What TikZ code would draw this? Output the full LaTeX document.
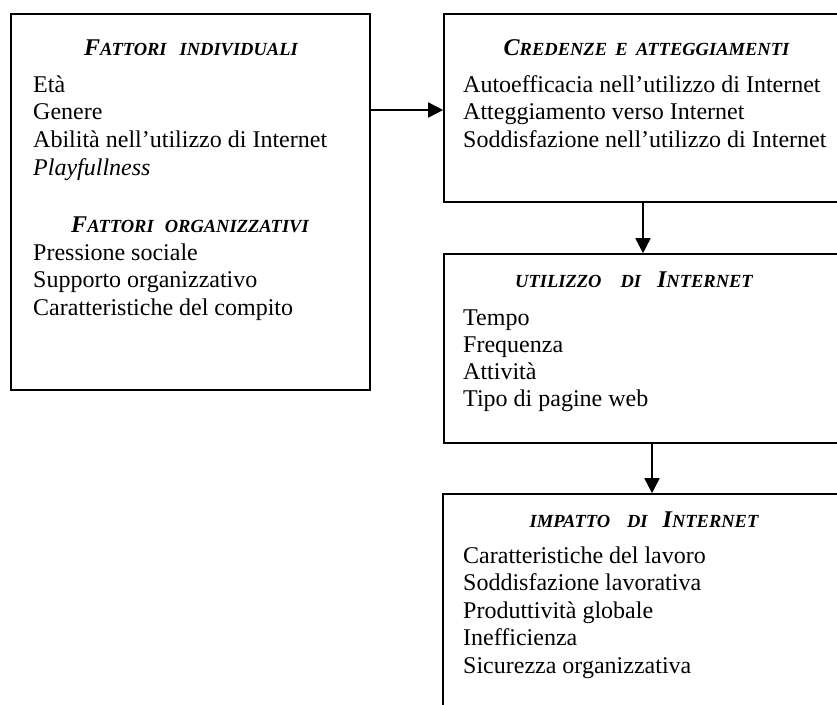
\documentclass[tikz,border=0pt]{standalone}
\usepackage{fontspec}
\setmainfont{Liberation Serif}
\usetikzlibrary{arrows.meta}
\newcommand{\capL}[1]{{\fontsize{24}{24}\selectfont #1}}
\newcommand{\capS}[1]{{\fontsize{18.5}{18.5}\selectfont #1}}
\newcommand{\wsp}{\hspace{0.45em}}
\begin{document}
\begin{tikzpicture}[x=1pt,y=-1pt,
  box/.style={draw=black, line width=1.6pt, rectangle, inner sep=0pt, fill=none},
  item/.style={anchor=base west, inner sep=0pt, font=\fontsize{24}{27.5}\selectfont},
  head/.style={anchor=base, inner sep=0pt, font=\bfseries\itshape},
  arr/.style={line width=1.6pt, -{Triangle[length=15pt,width=15pt]}}]
\useasboundingbox (0,0) rectangle (837,704);
\clip (0,0) rectangle (837,704);
\fill[white] (0,0) rectangle (837,704);
% boxes
\node[box, minimum width=359pt, minimum height=376pt] (L) at (190.5,202) {};
\node[box, minimum width=404pt, minimum height=188pt] (B1) at (646,108) {};
\node[box, minimum width=404pt, minimum height=189pt] (B2) at (646,348.5) {};
\node[box, minimum width=405pt, minimum height=250pt] (B3) at (645.5,619) {};
% left box
\node[head] (hL1) at (191,55) {\capL{F}\capS{ATTORI\hspace{0.7em}INDIVIDUALI}};
\foreach \t [count=\i] in {Età, Genere, Abilità nell’utilizzo di Internet, {\itshape Playfullness}}
  \node[item] (L\i) at (33,{92+27.7*(\i-1)}) {\t};
\node[head] (hL2) at (190,232) {\capL{F}\capS{ATTORI\hspace{0.6em}ORGANIZZATIVI}};
\foreach \t [count=\i] in {Pressione sociale, Supporto organizzativo, Caratteristiche del compito}
  \node[item] (O\i) at (33,{260+27.5*(\i-1)}) {\t};
% box 1
\node[head] (hB1) at (646.5,55) {\capL{C}\capS{REDENZE\wsp E\wsp ATTEGGIAMENTI}};
\foreach \t [count=\i] in {Autoefficacia nell’utilizzo di Internet, Atteggiamento verso Internet, Soddisfazione nell’utilizzo di Internet}
  \node[item] (C\i) at (463,{92+27.5*(\i-1)}) {\t};
% box 2
\node[head] (hB2) at (634,287) {\capS{UTILIZZO\hspace{19pt}DI\hspace{16pt}}\capL{I}\capS{NTERNET}};
\foreach \t [count=\i] in {Tempo, Frequenza, Attività, Tipo di pagine web}
  \node[item] (U\i) at (463,{325+27.3*(\i-1)}) {\t};
% box 3
\node[head] (hB3) at (644,527) {\capS{IMPATTO\hspace{17pt}DI\hspace{15pt}}\capL{I}\capS{NTERNET}};
\foreach \t [count=\i] in {Caratteristiche del lavoro, Soddisfazione lavorativa, Produttività globale, Inefficienza, Sicurezza organizzativa}
  \node[item] (I\i) at (463,{563+27.5*(\i-1)}) {\t};
% arrows
\coordinate (a1) at (0,110);
\coordinate (a2) at (643,0);
\coordinate (a3) at (652,0);
\draw[arr] (L.east |- a1) -- (B1.west |- a1);
\draw[arr] (B1.south -| a2) -- (B2.north -| a2);
\draw[arr] (B2.south -| a3) -- (B3.north -| a3);
\end{tikzpicture}
\end{document}
